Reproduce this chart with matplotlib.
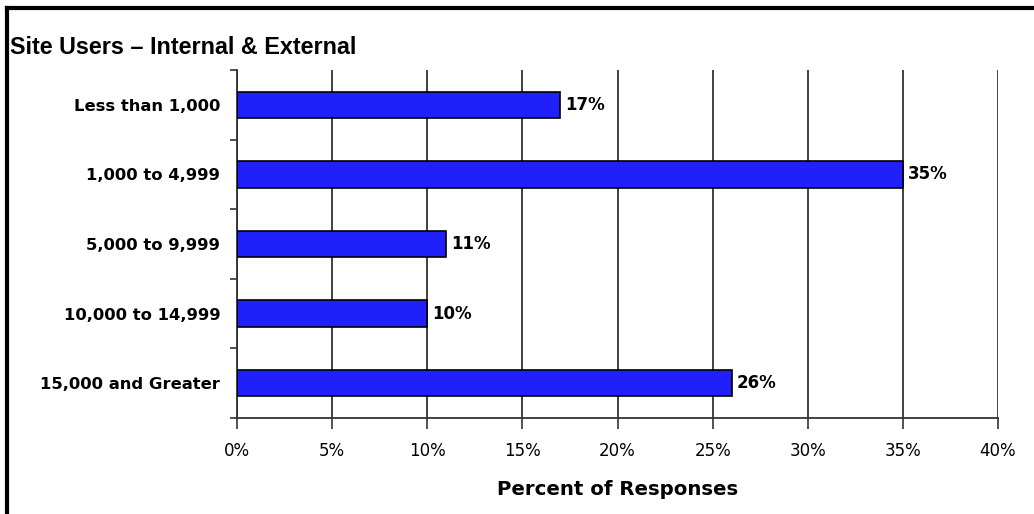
import numpy as np
import matplotlib.pyplot as plt
from matplotlib.lines import Line2D

# Jumlah pengguna situs (persen responden)
categories = ['Less than 1,000', '1,000 to 4,999', '5,000 to 9,999',
              '10,000 to 14,999', '15,000 and Greater']
percent = [17, 35, 11, 10, 26]
xticks = [0, 5, 10, 15, 20, 25, 30, 35, 40]

plt.rcParams['font.family'] = ['DejaVu Sans']

fig = plt.figure(figsize=(10.34, 5.14), dpi=100)
ax = fig.add_axes([0.2292, 0.1868, 0.736, 0.677])

y = np.arange(len(categories))
ax.barh(y, percent, height=0.38, color='#2020fa', edgecolor='black',
        linewidth=1.2, zorder=3)

# Label nilai di ujung batang
for yi, v in zip(y, percent):
    ax.text(v + 0.25, yi, f'{v}%', va='center', ha='left',
            fontsize=12, fontweight='bold', zorder=4)

ax.set_ylim(len(categories) - 0.5, -0.5)
ax.set_xlim(0, 40)
ax.set_xticks(xticks)
ax.set_xticklabels([f'{t}%' for t in xticks], fontsize=12)
ax.set_yticks(y)
ax.set_yticklabels(categories, fontsize=11.8, fontweight='bold')
ax.set_yticks(np.arange(-0.5, len(categories)), minor=True)
ax.tick_params(axis='y', which='major', length=0, pad=12)
ax.tick_params(axis='y', which='minor', length=5, width=1.2, color='#333333')
ax.tick_params(axis='x', length=8, width=1.2, color='#333333', pad=9)

# Garis grid vertikal
ax.grid(axis='x', color='#333333', linewidth=1.3, zorder=0)
for side in ['top', 'right']:
    ax.spines[side].set_visible(False)
for side in ['left', 'bottom']:
    ax.spines[side].set_color('#333333')
    ax.spines[side].set_linewidth(1.3)

ax.set_xlabel('Percent of Responses', fontsize=14.2, fontweight='bold',
              labelpad=15)

fig.text(0.010, 0.908, 'Site Users – Internal & External', fontsize=16.8,
         fontweight='bold', va='center', ha='left', family='Liberation Sans')

# Bingkai tebal di kiri dan atas
fig.add_artist(Line2D([0.0072, 0.0072], [0, 0.984], color='black', linewidth=3))
fig.add_artist(Line2D([0.0072, 1.0], [0.984, 0.984], color='black', linewidth=3))

fig.savefig('out.png', dpi=100)
